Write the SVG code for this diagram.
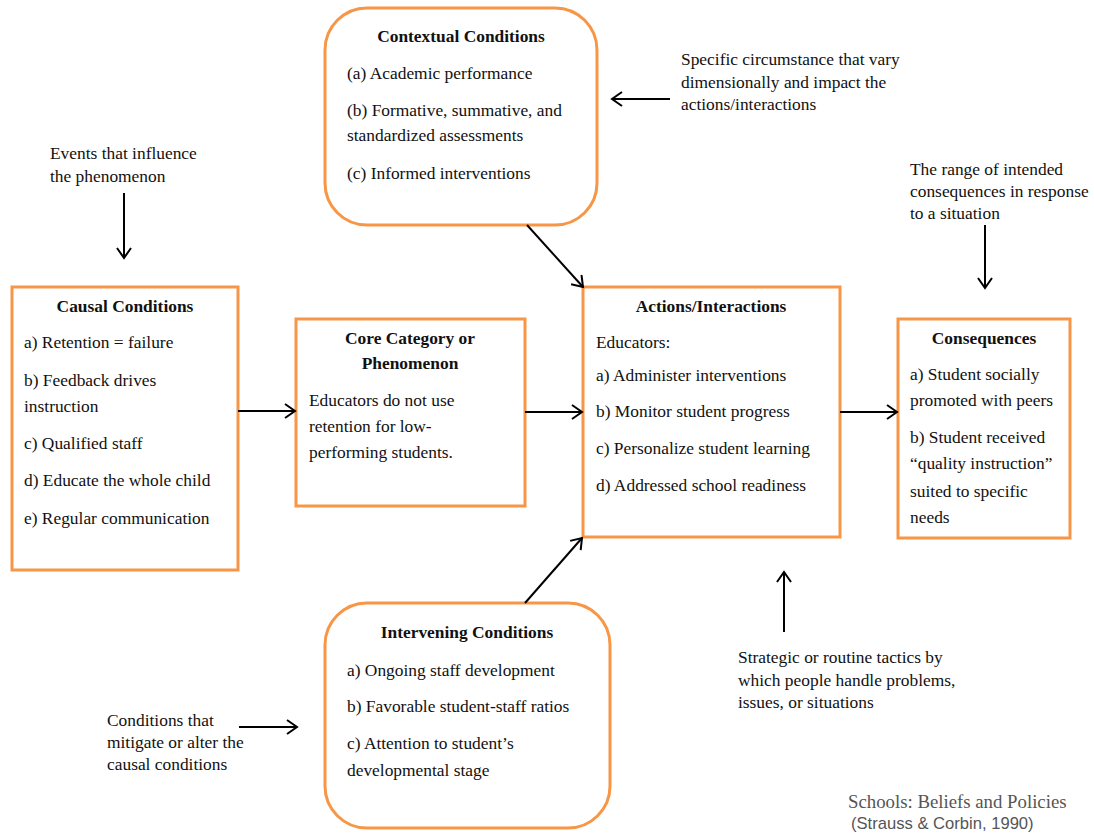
<svg xmlns="http://www.w3.org/2000/svg" width="1094" height="835" viewBox="0 0 1094 835">
  <style>
    .box { fill: #ffffff; stroke: #f79646; stroke-width: 3; }
    .t { font-family: "Liberation Serif", Tinos, "Times New Roman", serif; font-size: 17.4px; fill: #111111; }
    .h { font-weight: bold; text-anchor: middle; }
    .conn { stroke: #000000; stroke-width: 2; fill: none; marker-end: url(#open); }
  </style>
  <defs>
    <marker id="open" markerUnits="userSpaceOnUse" markerWidth="14" markerHeight="16" refX="11" refY="8" orient="auto">
      <path d="M1,1 L11,8 L1,15" fill="none" stroke="#000000" stroke-width="2"/>
    </marker>
  </defs>
  <rect width="1094" height="835" fill="#ffffff"/>

  <g id="contextual">
    <rect class="box" x="325" y="8" width="272" height="217" rx="42"/>
    <text class="t h" x="461" y="42">Contextual Conditions</text>
    <text class="t" x="347" y="79">(a) Academic performance</text>
    <text class="t" x="347" y="116">(b) Formative, summative, and</text>
    <text class="t" x="347" y="141">standardized assessments</text>
    <text class="t" x="347" y="179">(c) Informed interventions</text>
  </g>

  <g id="causal">
    <rect class="box" x="12" y="287" width="226" height="283"/>
    <text class="t h" x="125" y="312">Causal Conditions</text>
    <text class="t" x="24" y="348">a) Retention = failure</text>
    <text class="t" x="24" y="386">b) Feedback drives</text>
    <text class="t" x="24" y="412">instruction</text>
    <text class="t" x="24" y="449">c) Qualified staff</text>
    <text class="t" x="24" y="486">d) Educate the whole child</text>
    <text class="t" x="24" y="524">e) Regular communication</text>
  </g>

  <g id="core">
    <rect class="box" x="296" y="319" width="229" height="187"/>
    <text class="t h" x="410" y="344">Core Category or</text>
    <text class="t h" x="410" y="369">Phenomenon</text>
    <text class="t" x="309" y="406">Educators do not use</text>
    <text class="t" x="309" y="432">retention for low-</text>
    <text class="t" x="309" y="458">performing students.</text>
  </g>

  <g id="actions">
    <rect class="box" x="583" y="287" width="257" height="250"/>
    <text class="t h" x="711" y="312">Actions/Interactions</text>
    <text class="t" x="596" y="348">Educators:</text>
    <text class="t" x="596" y="381">a) Administer interventions</text>
    <text class="t" x="596" y="417">b) Monitor student progress</text>
    <text class="t" x="596" y="454">c) Personalize student learning</text>
    <text class="t" x="596" y="491">d) Addressed school readiness</text>
  </g>

  <g id="consequences">
    <rect class="box" x="898" y="319" width="172" height="219"/>
    <text class="t h" x="984" y="344">Consequences</text>
    <text class="t" x="910" y="380">a) Student socially</text>
    <text class="t" x="910" y="406">promoted with peers</text>
    <text class="t" x="910" y="443">b) Student received</text>
    <text class="t" x="910" y="469">“quality instruction”</text>
    <text class="t" x="910" y="497">suited to specific</text>
    <text class="t" x="910" y="523">needs</text>
  </g>

  <g id="intervening">
    <rect class="box" x="325" y="603" width="285" height="225" rx="42"/>
    <text class="t h" x="467" y="638">Intervening Conditions</text>
    <text class="t" x="347" y="676">a) Ongoing staff development</text>
    <text class="t" x="347" y="712">b) Favorable student-staff ratios</text>
    <text class="t" x="347" y="749">c) Attention to student’s</text>
    <text class="t" x="347" y="776">developmental stage</text>
  </g>

  <g id="notes">
    <text class="t" x="50" y="159">Events that influence</text>
    <text class="t" x="50" y="182">the phenomenon</text>
    <text class="t" x="681" y="65">Specific circumstance that vary</text>
    <text class="t" x="681" y="88">dimensionally and impact the</text>
    <text class="t" x="681" y="110">actions/interactions</text>
    <text class="t" x="910" y="175">The range of intended</text>
    <text class="t" x="910" y="197">consequences in response</text>
    <text class="t" x="910" y="219">to a situation</text>
    <text class="t" x="738" y="663">Strategic or routine tactics by</text>
    <text class="t" x="738" y="686">which people handle problems,</text>
    <text class="t" x="738" y="708">issues, or situations</text>
    <text class="t" x="107" y="726">Conditions that</text>
    <text class="t" x="107" y="748">mitigate or alter the</text>
    <text class="t" x="107" y="770">causal conditions</text>
  </g>

  <g id="connectors">
    <line class="conn" x1="238" y1="411" x2="295" y2="411"/>
    <line class="conn" x1="525" y1="412" x2="582" y2="412"/>
    <line class="conn" x1="840" y1="412" x2="897" y2="412"/>
    <line class="conn" x1="527" y1="225" x2="583" y2="287"/>
    <line class="conn" x1="525" y1="603" x2="582" y2="538"/>
    <line class="conn" x1="124" y1="193" x2="124" y2="258"/>
    <line class="conn" x1="670" y1="99" x2="612" y2="99"/>
    <line class="conn" x1="985" y1="225" x2="985" y2="288"/>
    <line class="conn" x1="784" y1="632" x2="784" y2="572"/>
    <line class="conn" x1="239" y1="727" x2="297" y2="727"/>
  </g>

  <g id="credit">
    <text x="848" y="808" font-family="'Liberation Serif', Tinos, serif" font-size="18.8" fill="#555555">Schools: Beliefs and Policies</text>
    <text x="851" y="829" font-family="'Liberation Sans', Arial, sans-serif" font-size="16.6" fill="#555555">(Strauss &amp; Corbin, 1990)</text>
  </g>
</svg>
